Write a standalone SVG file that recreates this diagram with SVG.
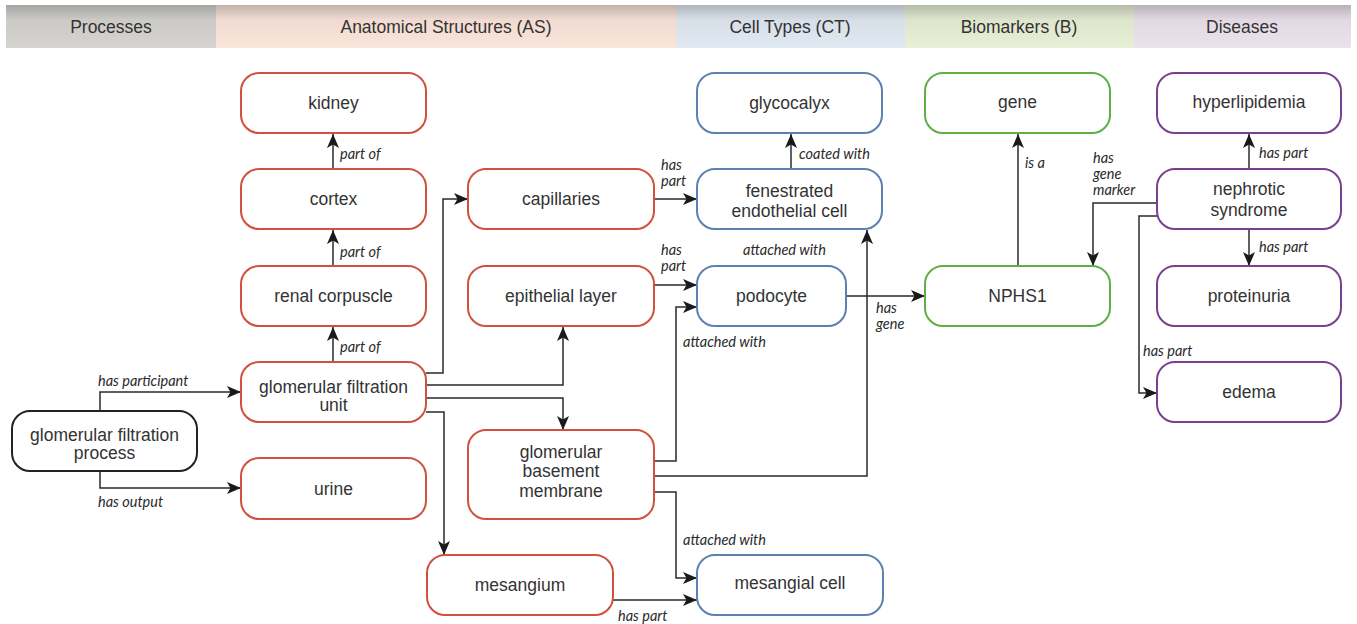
<svg xmlns="http://www.w3.org/2000/svg" width="1357" height="624" viewBox="0 0 1357 624">
<defs>
<linearGradient id="shade" x1="0" y1="0" x2="0" y2="1">
<stop offset="0" stop-color="#000" stop-opacity="0.22"/>
<stop offset="0.35" stop-color="#000" stop-opacity="0.04"/>
<stop offset="1" stop-color="#000" stop-opacity="0"/>
</linearGradient>
<marker id="arr" viewBox="0 0 14 12" refX="14" refY="6" markerWidth="14" markerHeight="12" markerUnits="userSpaceOnUse" orient="auto">
<path d="M0,0 L14,6 L0,12 L3.5,6 z" fill="#1a1a1a"/>
</marker>
</defs>
<style>
.hdr{font-family:"Liberation Sans",Arial,sans-serif;font-size:17.5px;fill:#333;text-anchor:middle}
.node rect{fill:#fff;stroke-width:2}
.node text{font-family:"Liberation Sans",Arial,sans-serif;font-size:17.5px;fill:#333;text-anchor:middle}
.as rect{stroke:#d2503e}
.ct rect{stroke:#5c81b1}
.bm rect{stroke:#5fae47}
.ds rect{stroke:#7b3f8f}
.pr rect{stroke:#222}
.edges path{fill:none;stroke:#2a2a2a;stroke-width:1.5;marker-end:url(#arr)}
.lbl{font-family:Lato,"Open Sans",sans-serif;font-style:italic;font-size:14.5px;fill:#2a2a2a}
</style>
<rect width="1357" height="624" fill="#fff"/>
<g id="header">
<rect x="6" y="5" width="210" height="43" fill="#d5d3d0"/>
<rect x="216" y="5" width="460" height="43" fill="#fbe4da"/>
<rect x="676" y="5" width="229" height="43" fill="#e0e8f1"/>
<rect x="905" y="5" width="229" height="43" fill="#e7efd6"/>
<rect x="1134" y="5" width="217" height="43" fill="#ece2ed"/>
<rect x="6" y="5" width="1345" height="43" fill="url(#shade)"/>
<text class="hdr" x="111" y="33">Processes</text>
<text class="hdr" x="446" y="33">Anatomical Structures (AS)</text>
<text class="hdr" x="790" y="33">Cell Types (CT)</text>
<text class="hdr" x="1019" y="33">Biomarkers (B)</text>
<text class="hdr" x="1242" y="33">Diseases</text>
</g>
<g class="edges" id="connectors">
<path d="M100,411 V392 H241"/>
<path d="M100,471 V488 H241"/>
<path d="M333,362 V327"/>
<path d="M333,266 V230"/>
<path d="M333,169 V134"/>
<path d="M426,373 H443 V199 H468"/>
<path d="M426,385 H563 V327"/>
<path d="M426,398 H563 V430"/>
<path d="M426,412 H444 V555"/>
<path d="M654,199 H697"/>
<path d="M654,285 H697"/>
<path d="M654,461 H676 V307 H697"/>
<path d="M654,476 H867 V230"/>
<path d="M654,492 H676 V578 H697"/>
<path d="M613,600 H697"/>
<path d="M791,169 V134"/>
<path d="M846,296 H925"/>
<path d="M1018,266 V134"/>
<path d="M1157,203 H1093 V266"/>
<path d="M1249,169 V134"/>
<path d="M1249,230 V266"/>
<path d="M1157,216 H1139 V393 H1157"/>
</g>
<g id="edge-labels">
<text class="lbl" x="98" y="386">has participant</text>
<text class="lbl" x="98" y="507">has output</text>
<text class="lbl" x="340" y="352">part of</text>
<text class="lbl" x="340" y="257">part of</text>
<text class="lbl" x="340" y="159">part of</text>
<text class="lbl" x="661" y="170">has</text>
<text class="lbl" x="661" y="186">part</text>
<text class="lbl" x="661" y="255">has</text>
<text class="lbl" x="661" y="271">part</text>
<text class="lbl" x="683" y="347">attached with</text>
<text class="lbl" x="743" y="255">attached with</text>
<text class="lbl" x="683" y="545">attached with</text>
<text class="lbl" x="618" y="621">has part</text>
<text class="lbl" x="799" y="159">coated with</text>
<text class="lbl" x="876" y="313">has</text>
<text class="lbl" x="876" y="329">gene</text>
<text class="lbl" x="1025" y="168">is a</text>
<text class="lbl" x="1093" y="163">has</text>
<text class="lbl" x="1093" y="179">gene</text>
<text class="lbl" x="1093" y="195">marker</text>
<text class="lbl" x="1259" y="158">has part</text>
<text class="lbl" x="1259" y="252">has part</text>
<text class="lbl" x="1143" y="356">has part</text>
</g>
<g id="n-process" class="node pr"><rect x="12" y="411" width="185" height="60" rx="18"/><text x="104.5" y="441">glomerular filtration</text><text x="104.5" y="459">process</text></g>
<g id="n-kidney" class="node as"><rect x="241" y="73" width="185" height="60" rx="18"/><text x="333.5" y="109">kidney</text></g>
<g id="n-cortex" class="node as"><rect x="241" y="169" width="185" height="60" rx="18"/><text x="333.5" y="205">cortex</text></g>
<g id="n-renal" class="node as"><rect x="241" y="266" width="185" height="60" rx="18"/><text x="333.5" y="302">renal corpuscle</text></g>
<g id="n-gfu" class="node as"><rect x="241" y="362" width="185" height="60" rx="18"/><text x="333.5" y="393">glomerular filtration</text><text x="333.5" y="411">unit</text></g>
<g id="n-urine" class="node as"><rect x="241" y="458" width="185" height="61" rx="18"/><text x="333.5" y="495">urine</text></g>
<g id="n-capillaries" class="node as"><rect x="468" y="169" width="186" height="60" rx="18"/><text x="561" y="205">capillaries</text></g>
<g id="n-epithelial" class="node as"><rect x="468" y="266" width="186" height="60" rx="18"/><text x="561" y="302">epithelial layer</text></g>
<g id="n-gbm" class="node as"><rect x="468" y="430" width="186" height="89" rx="18"/><text x="561" y="458">glomerular</text><text x="561" y="477">basement</text><text x="561" y="497">membrane</text></g>
<g id="n-mesangium" class="node as"><rect x="427" y="555" width="186" height="60" rx="18"/><text x="520" y="591">mesangium</text></g>
<g id="n-glycocalyx" class="node ct"><rect x="697" y="73" width="185" height="60" rx="18"/><text x="789.5" y="109">glycocalyx</text></g>
<g id="n-fenestrated" class="node ct"><rect x="697" y="169" width="185" height="60" rx="18"/><text x="789.5" y="197">fenestrated</text><text x="789.5" y="217">endothelial cell</text></g>
<g id="n-podocyte" class="node ct"><rect x="697" y="266" width="149" height="60" rx="18"/><text x="771.5" y="302">podocyte</text></g>
<g id="n-mesangialcell" class="node ct"><rect x="697" y="555" width="186" height="60" rx="18"/><text x="790" y="589">mesangial cell</text></g>
<g id="n-gene" class="node bm"><rect x="925" y="73" width="185" height="60" rx="18"/><text x="1017.5" y="108">gene</text></g>
<g id="n-nphs1" class="node bm"><rect x="925" y="266" width="185" height="60" rx="18"/><text x="1017.5" y="302">NPHS1</text></g>
<g id="n-hyperlipidemia" class="node ds"><rect x="1157" y="73" width="184" height="60" rx="18"/><text x="1249" y="108">hyperlipidemia</text></g>
<g id="n-nephrotic" class="node ds"><rect x="1157" y="169" width="184" height="60" rx="18"/><text x="1249" y="195">nephrotic</text><text x="1249" y="216">syndrome</text></g>
<g id="n-proteinuria" class="node ds"><rect x="1157" y="266" width="184" height="60" rx="18"/><text x="1249" y="302">proteinuria</text></g>
<g id="n-edema" class="node ds"><rect x="1157" y="362" width="184" height="60" rx="18"/><text x="1249" y="398">edema</text></g>
</svg>
